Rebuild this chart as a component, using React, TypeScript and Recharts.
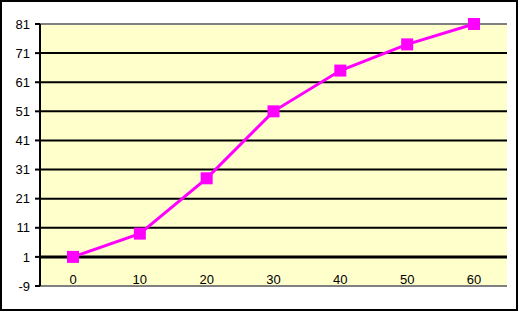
import { LineChart, Line, XAxis, YAxis, CartesianGrid, ReferenceLine } from 'recharts';

const categories = ['0', '10', '20', '30', '40', '50', '60'];
const values = [1, 9, 28, 51, 65, 74, 81];
const yTicks = [-9, 1, 11, 21, 31, 41, 51, 61, 71, 81];

const data = categories.map((c, i) => ({ name: c, value: values[i] }));

const FONT = '"Liberation Sans", Arial, sans-serif';

function SquareDot(props: any) {
  const { cx, cy } = props;
  if (cx == null || cy == null) return null;
  return <rect x={cx - 6} y={cy - 6} width={12} height={12} fill="#FF00FF" />;
}

function XTick(props: any) {
  const { x, y, payload } = props;
  return (
    <text x={x} y={y - 2} textAnchor="middle" fontSize={13} fontFamily={FONT} fill="#000">
      {payload.value}
    </text>
  );
}

export default function App() {
  return (
    <div style={{ position: 'absolute', left: 0, top: 0, width: 519, height: 312, background: '#fff' }}>
      <div
        style={{
          position: 'absolute',
          left: 0,
          top: 0,
          width: 518,
          height: 311,
          border: '2px solid #000',
          boxSizing: 'border-box',
        }}
      />
      <div style={{ position: 'absolute', left: 0, top: 0 }}>
        <LineChart width={519} height={312} data={data} margin={{ top: 24, right: 12, left: 0, bottom: 25 }}>
          <CartesianGrid vertical={false} stroke="#000" strokeWidth={2} fill="#FFFFCC" fillOpacity={1} />
          <ReferenceLine y={81} stroke="#808080" strokeWidth={2} />
          <ReferenceLine y={-9} stroke="#808080" strokeWidth={2} />
          <XAxis
            dataKey="name"
            height={1}
            padding={{ left: 33, right: 33 }}
            axisLine={false}
            tickLine={false}
            tickSize={0}
            tickMargin={0}
            interval={0}
            tick={(p: any) => <XTick {...p} />}
          />
          <YAxis
            width={40}
            domain={[-9, 81]}
            ticks={yTicks}
            interval={0}
            axisLine={{ stroke: '#000', strokeWidth: 2 }}
            tickLine={{ stroke: '#000', strokeWidth: 2 }}
            tickSize={5}
            tickMargin={5}
            tick={{ fill: '#000', fontSize: 13, fontFamily: FONT }}
          />
          <YAxis
            yAxisId="right"
            orientation="right"
            width={0}
            domain={[-9, 81]}
            ticks={yTicks}
            tick={false}
            tickLine={false}
            axisLine={{ stroke: '#808080', strokeWidth: 2 }}
          />
          <ReferenceLine y={1} stroke="#000" strokeWidth={3} />
          <Line
            dataKey="value"
            stroke="#FF00FF"
            strokeWidth={3}
            dot={<SquareDot />}
            activeDot={false}
            isAnimationActive={false}
          />
        </LineChart>
      </div>
    </div>
  );
}
